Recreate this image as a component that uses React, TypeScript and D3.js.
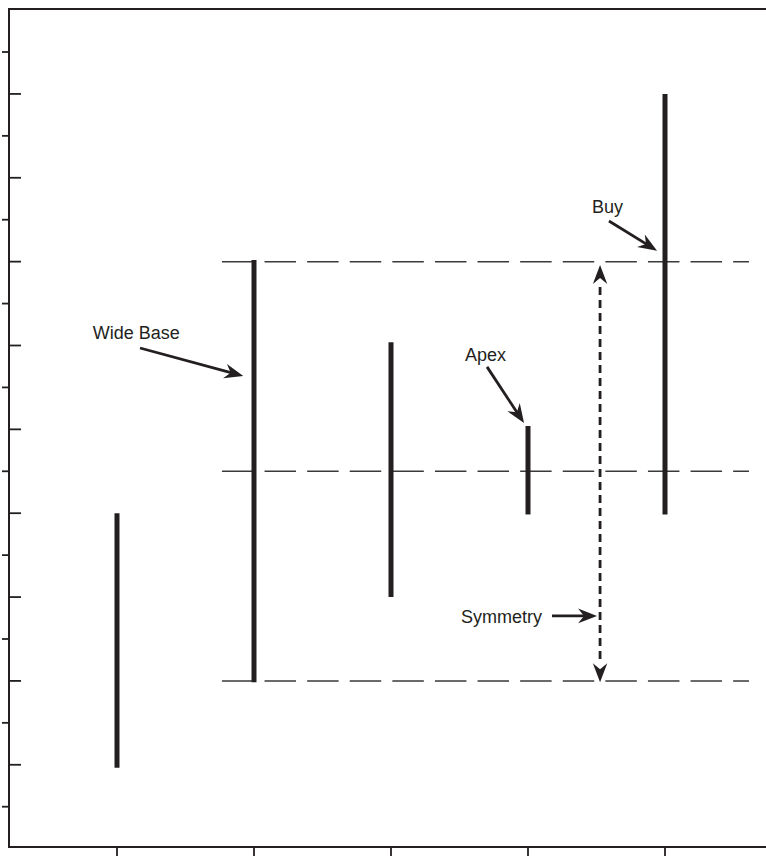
import React from "react";
import * as d3 from "d3";

// ---- data (price units, bar index) ----
const barIndex = [0, 1, 2, 3, 4];
const barLow = [0.93, 2.97, 5.0, 6.97, 6.97];
const barHigh = [7.0, 13.04, 11.08, 9.08, 17.0];
const yTickValues = d3.range(0, 19);
const levelValues = [13, 8, 3];
const levelStart = 0.766;
const levelEnd = 4.613;

// annotations: text anchor, arrow tail, arrow tip (index, value)
const annLabels = ["Wide Base", "Apex", "Buy", "Symmetry"];
const annText = [[-0.177, 11.15], [2.54, 10.63], [3.467, 14.16], [2.511, 4.38]];
const annTail = [[0.168, 10.94], [2.701, 10.49], [3.591, 13.97], [3.175, 4.55]];
const annTip = [[0.922, 10.27], [2.971, 9.15], [3.942, 13.26], [3.504, 4.55]];

// symmetry measurement (vertical double arrow)
const symIndex = 3.526;
const symTop = 12.92;
const symBottom = 2.97;

const W = 766;
const H = 856;
const L = 9, T = 9, B = 847;
const INK = "#231f20";

const x = d3.scaleLinear().domain([0, 4]).range([117, 665]);
const y = d3.scaleLinear().domain([0, 18]).range([806.7, 52]);

function arrowHead(tx: number, ty: number, ux: number, uy: number, len: number, hw: number, notch: number) {
  const px = -uy, py = ux;
  const bx = tx - ux * len, by = ty - uy * len;
  const nx = tx - ux * notch, ny = ty - uy * notch;
  return `M${tx},${ty}L${bx + px * hw},${by + py * hw}L${nx},${ny}L${bx - px * hw},${by - py * hw}Z`;
}

function Arrow({ x1, y1, x2, y2 }: { x1: number; y1: number; x2: number; y2: number }) {
  const dx = x2 - x1, dy = y2 - y1;
  const d = Math.hypot(dx, dy);
  const ux = dx / d, uy = dy / d;
  return (
    <g>
      <line x1={x1} y1={y1} x2={x2 - ux * 12} y2={y2 - uy * 12} stroke={INK} strokeWidth={2.8} />
      <path d={arrowHead(x2, y2, ux, uy, 19, 7.4, 13)} fill={INK} />
    </g>
  );
}

export default function App() {
  const symX = x(symIndex);
  const sTop = y(symTop);
  const sBot = y(symBottom);
  return (
    <svg width={W} height={H} style={{ position: "absolute", left: 0, top: 0, background: "#fff" }}
      fontFamily="'Liberation Sans', Arial, Helvetica, sans-serif">
      <rect x={0} y={0} width={W} height={H} fill="#fff" />
      {/* frame */}
      <path d={`M${W},${T}H${L}V${B}H${W}`} fill="none" stroke={INK} strokeWidth={2} />
      {/* left ticks */}
      {yTickValues.map((v) => (
        <line key={"yt" + v}
          x1={v % 2 === 0 ? 2 : L} x2={v % 2 === 0 ? L : 21}
          y1={y(v)} y2={y(v)} stroke={INK} strokeWidth={1.8} />
      ))}
      {/* bottom ticks */}
      {barIndex.map((i) => (
        <line key={"xt" + i} x1={x(i)} x2={x(i)} y1={B} y2={H} stroke={INK} strokeWidth={1.8} />
      ))}
      {/* dashed levels */}
      {levelValues.map((v) => (
        <line key={"lv" + v} x1={x(levelStart)} x2={x(levelEnd)} y1={y(v)} y2={y(v)}
          stroke="#3a3a3a" strokeWidth={1.5} strokeDasharray="31.5 11.1" />
      ))}
      {/* bars */}
      {barIndex.map((i) => (
        <line key={"b" + i} x1={x(i)} x2={x(i)} y1={y(barHigh[i])} y2={y(barLow[i])}
          stroke={INK} strokeWidth={5} />
      ))}
      {/* symmetry vertical double arrow */}
      <line x1={symX} x2={symX} y1={sTop + 22} y2={sBot - 22} stroke={INK} strokeWidth={2.8} strokeDasharray="8 5" />
      <path d={arrowHead(symX, sTop, 0, -1, 19, 7.2, 13)} fill={INK} />
      <path d={arrowHead(symX, sBot, 0, 1, 19, 7.2, 13)} fill={INK} />
      {/* annotations */}
      {annLabels.map((lab, k) => (
        <g key={"a" + k}>
          <text x={x(annText[k][0])} y={y(annText[k][1])} fontSize={18} fill={INK}>{lab}</text>
          <Arrow x1={x(annTail[k][0])} y1={y(annTail[k][1])} x2={x(annTip[k][0])} y2={y(annTip[k][1])} />
        </g>
      ))}
    </svg>
  );
}
